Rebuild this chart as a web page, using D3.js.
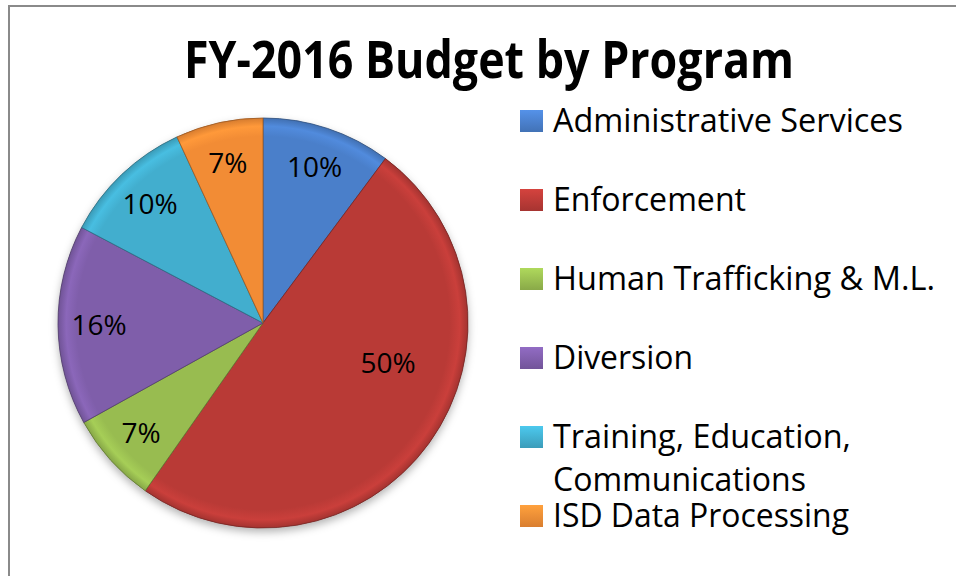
<!DOCTYPE html>
<html>
<head>
<meta charset="utf-8">
<script src="https://cdn.jsdelivr.net/npm/d3@7"></script>
<style>
  body { margin: 0; background: #fff; }
  text { font-family: "Open Sans", sans-serif; }
</style>
</head>
<body>
<div id="chart"></div>
<script>
var svgWidth = 956;
var svgHeight = 576;

// chart data
var programs = ["Administrative Services", "Enforcement", "Human Trafficking & M.L.",
  "Diversion", "Training, Education, Communications", "ISD Data Processing"];
var shares = [10.2, 49.6, 7.2, 15.8, 10.4, 6.9];
var sliceColors = ["#4a7fca", "#b93a36", "#98bc50", "#7f5eaa", "#42aece", "#f28c35"];
var titleText = "FY-2016 Budget by Program";

var cx = 263, cy = 323, radius = 205;

var svg = d3.select("#chart")
  .append("svg")
  .attr("width", svgWidth)
  .attr("height", svgHeight);

var defs = svg.append("defs");

// outer frame (only left/top visible)
svg.append("rect")
  .attr("x", 9).attr("y", 6)
  .attr("width", 1000).attr("height", 700)
  .attr("fill", "none")
  .attr("stroke", "#8a8a8a")
  .attr("stroke-width", 2);

// title
svg.append("text")
  .attr("x", 489)
  .attr("y", 78)
  .attr("text-anchor", "middle")
  .attr("font-size", 52)
  .attr("font-weight", "bold")
  .attr("textLength", 610)
  .attr("lengthAdjust", "spacingAndGlyphs")
  .attr("fill", "#000")
  .text(titleText);

// soft shadow under the pie
var shadow = defs.append("filter").attr("id", "shadow")
  .attr("x", "-20%").attr("y", "-20%").attr("width", "140%").attr("height", "140%");
shadow.append("feDropShadow")
  .attr("dx", 0).attr("dy", 4).attr("stdDeviation", 4)
  .attr("flood-color", "#000").attr("flood-opacity", 0.3);

// gradients per slice (centred on the pie group origin)
sliceColors.forEach(function(c, i) {
  var g = defs.append("radialGradient")
    .attr("id", "grad" + i)
    .attr("gradientUnits", "userSpaceOnUse")
    .attr("cx", 0).attr("cy", 0).attr("r", radius);
  g.append("stop").attr("offset", "0%").attr("stop-color", c);
  g.append("stop").attr("offset", "91%").attr("stop-color", c);
  g.append("stop").attr("offset", "96%").attr("stop-color", d3.color(c).brighter(0.25));
  g.append("stop").attr("offset", "100%").attr("stop-color", d3.color(c).darker(0.35));
});

var pie = d3.pie().sort(null).value(function(d) { return d; });
var arcs = pie(shares);

var arc = d3.arc().innerRadius(0).outerRadius(radius);
var labelArc = d3.arc().innerRadius(radius * 0.8).outerRadius(radius * 0.8);

var pieGroup = svg.append("g")
  .attr("transform", `translate(${cx}, ${cy})`);

pieGroup.append("circle")
  .attr("r", radius)
  .attr("fill", "#888")
  .attr("filter", "url(#shadow)");

pieGroup.selectAll("path")
  .data(arcs)
  .enter()
  .append("path")
  .attr("d", arc)
  .attr("fill", function(d, i) { return "url(#grad" + i + ")"; })
  .attr("stroke", function(d, i) { return d3.color(sliceColors[i]).darker(1.2); })
  .attr("stroke-width", 0.8);

// percent labels
pieGroup.selectAll("text")
  .data(arcs)
  .enter()
  .append("text")
  .attr("transform", function(d) {
    var p;
    if (d.endAngle - d.startAngle > Math.PI * 0.8) {
      // big slice: excel puts it nearer the upper part
      var a = (d.startAngle + d.endAngle) / 2 - 0.32;
      var r = radius * 0.64;
      p = [Math.sin(a) * r, -Math.cos(a) * r];
    } else {
      p = labelArc.centroid(d);
    }
    return `translate(${p[0]}, ${p[1]})`;
  })
  .attr("dy", "0.36em")
  .attr("text-anchor", "middle")
  .attr("font-size", 28)
  .attr("fill", "#000")
  .text(function(d) { return Math.round(d.data) + "%"; });

// legend
var legend = svg.append("g");
var rowGap = 79;
var widths = {
  "Administrative Services": 350,
  "Enforcement": 193,
  "Human Trafficking & M.L.": 382,
  "Diversion": 140,
  "Training, Education,": 298,
  "Communications": 253,
  "ISD Data Processing": 296
};

programs.forEach(function(name, i) {
  var base = 132 + i * rowGap;
  var row = legend.append("g");
  var lg = defs.append("linearGradient").attr("id", "lg" + i)
    .attr("x1", 0).attr("y1", 0).attr("x2", 0).attr("y2", 1);
  lg.append("stop").attr("offset", "0%").attr("stop-color", d3.color(sliceColors[i]).brighter(0.4));
  lg.append("stop").attr("offset", "100%").attr("stop-color", d3.color(sliceColors[i]).darker(0.3));
  row.append("rect")
    .attr("x", 520).attr("y", base - 22)
    .attr("width", 23).attr("height", 22)
    .attr("fill", "url(#lg" + i + ")");

  var parts = name === "Training, Education, Communications"
    ? ["Training, Education,", "Communications"] : [name];
  parts.forEach(function(t, j) {
    row.append("text")
      .attr("x", 553)
      .attr("y", base + j * 43)
      .attr("font-size", 32)
      .attr("textLength", widths[t])
      .attr("lengthAdjust", "spacingAndGlyphs")
      .attr("fill", "#000")
      .text(t);
  });
});
</script>
</body>
</html>
